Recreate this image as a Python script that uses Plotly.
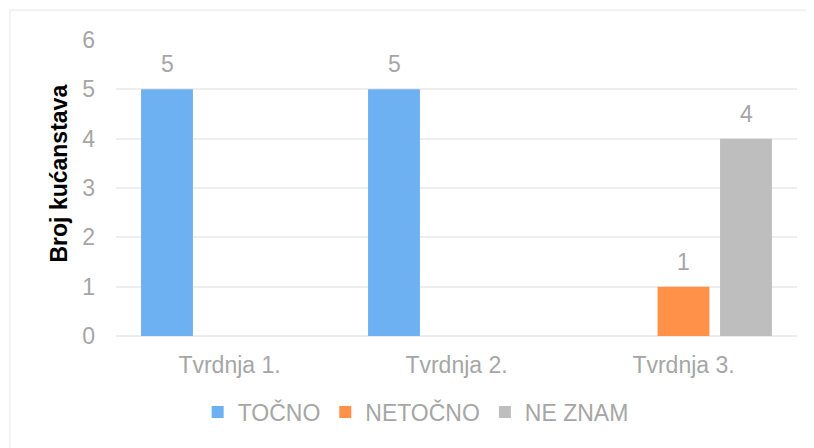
import plotly.graph_objects as go

categories = ["Tvrdnja 1.", "Tvrdnja 2.", "Tvrdnja 3."]
series_names = ["TOČNO", "NETOČNO", "NE ZNAM"]
tocno = [5, 5, 0]
netocno = [0, 0, 1]
ne_znam = [0, 0, 4]
y_ticks = [0, 1, 2, 3, 4, 5, 6]

series_values = [tocno, netocno, ne_znam]
colors = ["#6EB1F2", "#FF9148", "#BEBEBE"]
FONT = "Arial, Liberation Sans, sans-serif"
GRAY = "#A6A6A6"

fig = go.Figure()
for name, vals, col in zip(series_names, series_values, colors):
    fig.add_trace(go.Bar(
        x=categories, y=vals, name=name,
        marker=dict(color=col, line=dict(width=0)),
        hoverinfo="x+y+name",
    ))

# data labels (only for non-zero values), above each grouped bar
slot_px = 62.5
for si, vals in enumerate(series_values):
    for cat, v in zip(categories, vals):
        if v:
            fig.add_annotation(
                x=cat, y=v, text=str(v), showarrow=False,
                xref="x", yref="y", yanchor="bottom",
                xshift=(si - 1) * slot_px, yshift=10,
                font=dict(family=FONT, size=23, color=GRAY),
            )

fig.add_annotation(
    text="<b>Broj kućanstava</b>", textangle=-90, showarrow=False,
    xref="paper", yref="paper", x=-0.0837, y=0.549,
    xanchor="center", yanchor="middle",
    font=dict(family=FONT, size=23, color="#000000"),
)

# outer chart border (light)
fig.add_shape(type="rect", xref="paper", yref="paper",
              x0=-0.1557, y0=-0.6, x1=1.2, y1=1.101,
              line=dict(color="#E6E6E6", width=1), fillcolor="rgba(0,0,0,0)",
              layer="below")

fig.update_layout(
    width=806, height=440,
    margin=dict(l=108, r=17, t=32, b=112),
    paper_bgcolor="white", plot_bgcolor="white",
    barmode="group", bargap=0.174, bargroupgap=0.17,
    font=dict(family=FONT, size=23, color=GRAY),
    showlegend=True,
    legend=dict(
        orientation="h", x=0.44, y=-0.257, xanchor="center", yanchor="middle",
        font=dict(family=FONT, size=23, color=GRAY),
        itemwidth=30, traceorder="normal",
    ),
    xaxis=dict(
        showgrid=False, showline=False, zeroline=False,
        ticks="", ticklabelstandoff=13,
        tickfont=dict(family=FONT, size=23, color=GRAY),
    ),
    yaxis=dict(
        range=[0, 6], tickvals=y_ticks, ticktext=[str(t) for t in y_ticks],
        showgrid=True, gridcolor="#EEEEEE", gridwidth=1.5,
        zeroline=True, zerolinecolor="#EEEEEE", zerolinewidth=1.5,
        showline=False, ticks="", ticklabelstandoff=20,
        tickfont=dict(family=FONT, size=23, color=GRAY),
    ),
)

fig.write_html("out.html")
